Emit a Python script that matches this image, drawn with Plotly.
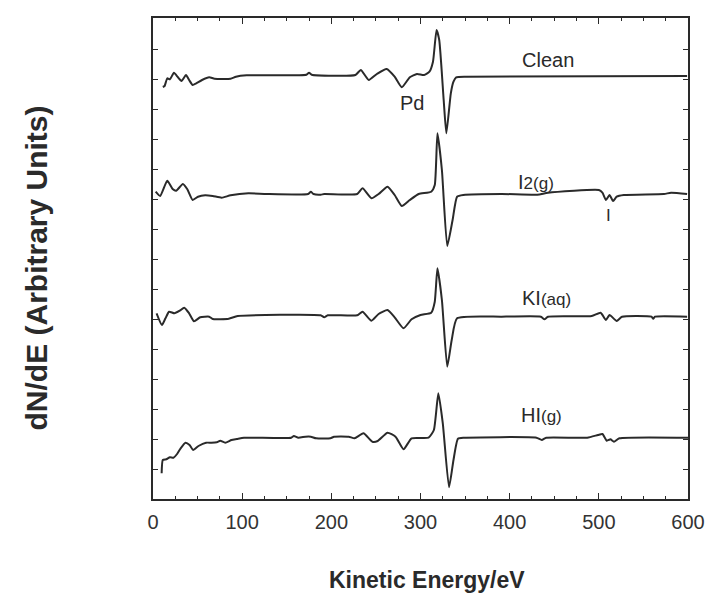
import plotly.graph_objects as go

# ---- data (kinetic energy in eV, dN/dE in arbitrary units with vertical offsets) ----
clean_x = [11, 13, 16, 19, 23.5, 28, 32, 37, 40.5, 44.5, 48.5, 55, 63, 69, 87, 93, 105, 172, 175, 178,
           227, 233, 242, 251, 262, 271, 279, 288, 296, 304, 310, 314, 318, 321, 326, 329, 334, 337,
           340, 352, 599]
clean_y = [412, 413, 420.7, 419.7, 426.3, 421.7, 418, 424, 419, 414, 415.7, 419, 421.7, 420.3, 420.3,
           422.3, 423.7, 424.3, 426.3, 424.3, 424, 429, 419, 425, 430, 422.3, 411.7, 421.7, 425, 424,
           427.3, 437.3, 469, 459, 399, 365.7, 405.7, 417.3, 421.7, 422.3, 423]

i2_x = [3, 8, 16, 22, 26, 33.5, 38.5, 44.5, 50.5, 58.5, 67, 77, 87, 107, 127.5, 174, 177, 180, 188, 192,
        229, 235, 245, 253, 263, 271, 279, 288, 298, 312, 316, 319, 324, 330, 336, 341, 348, 391, 431,
        443, 500, 504, 508, 512, 516, 520, 528, 573, 581, 599]
i2_y = [307.3, 303, 318.3, 310, 308.3, 315, 309.7, 299, 302.3, 303.7, 303, 301.3, 303.7, 305.7, 305,
        305, 307.3, 305, 304.3, 305, 305, 310.7, 300.7, 305, 312.3, 304, 293, 299, 305, 307.3, 314,
        365.7, 329, 253, 279, 302.3, 304, 305, 304.3, 306.3, 309, 306.3, 299, 304, 298, 302.3, 304,
        305, 306.3, 305]

ki_x = [4, 10, 14, 18, 24, 30, 35, 40.5, 46, 53, 63, 67, 85, 95, 188, 192, 196, 229, 235, 245, 253,
        263, 271, 281, 290, 300, 312, 316, 319, 324, 330, 335, 341, 391, 435, 439, 443, 492, 502,
        508, 512, 520, 526, 559, 561, 563, 599]
ki_y = [185.7, 174, 180.7, 187.3, 185.7, 188.3, 191.3, 185.7, 177.7, 181.7, 182.3, 180, 180.3, 183,
        183.7, 181.7, 183.7, 183.7, 187.3, 178.3, 185, 189, 181.7, 170.7, 179.7, 184, 186.3, 197.3,
        230.7, 199, 132.3, 159, 180.7, 182.3, 182.3, 179.7, 182.3, 183, 186.3, 179, 184, 178, 182.3,
        182.3, 180.3, 182.3, 182.3]

hi_x = [9.7, 11, 15, 19, 23, 27, 31, 36.5, 41, 45, 51, 59.5, 65.5, 71.5, 75.5, 81, 88, 94, 102, 155,
        158, 163, 171, 177, 183, 199, 203, 219.5, 226, 236, 246, 252, 263, 272, 281, 290, 309, 315,
        320, 325, 332, 337, 342, 349, 430, 436, 441, 487, 499, 504, 509, 513, 517, 523, 600]
hi_y = [25.7, 39, 39.7, 41.7, 41.3, 45, 50.7, 56.3, 54, 49, 53, 56.3, 56.3, 56.7, 58.3, 56.3, 59, 60,
        61.3, 61.3, 63, 61.3, 62.3, 62.3, 60.7, 60.7, 62.3, 62.3, 60.7, 65.7, 57.3, 58, 66.3, 62.3,
        49.7, 60.7, 61.3, 69, 105.7, 75.7, 11.7, 39, 60.3, 61.3, 61.3, 59, 61.3, 61.3, 64, 65, 58.3,
        59.7, 57.3, 60.7, 61.3]

series = [("Clean", clean_x, clean_y), ("I2(g)", i2_x, i2_y),
          ("KI(aq)", ki_x, ki_y), ("HI(g)", hi_x, hi_y)]

# labels: (text, x eV, y, size)
labels = [
    ("Clean", 443, 439, 20),
    ("Pd", 291, 396, 20),
    ("I<span style='font-size:17px'>2(g)</span>", 429, 317, 20),
    ("I", 511, 284, 17),
    ("KI<span style='font-size:17px'>(aq)</span>", 441, 201, 20),
    ("HI<span style='font-size:17px'>(g)</span>", 436, 84, 20),
]

x_ticks = [0, 100, 200, 300, 400, 500, 600]

FONT = "Liberation Sans, Arial, Helvetica, sans-serif"
INK = "#2a2a2a"

fig = go.Figure()
for name, xs, ys in series:
    fig.add_trace(go.Scatter(x=xs, y=ys, mode="lines", name=name,
                             line=dict(color=INK, width=2, shape="spline", smoothing=0.5),
                             showlegend=False, hoverinfo="skip"))

for text, lx, ly, fs in labels:
    fig.add_annotation(x=lx, y=ly, text=text, showarrow=False,
                       font=dict(family=FONT, size=fs, color=INK), xref="x", yref="y")

fig.add_annotation(x=0.513, y=-0.168, xref="paper", yref="paper", yanchor="middle",
                   text="<b>Kinetic Energy/eV</b>", showarrow=False,
                   font=dict(family=FONT, size=23, color=INK))
fig.add_annotation(x=-0.218, y=0.48, xref="paper", yref="paper", xanchor="center",
                   yanchor="middle", text="<b>dN/dE (Arbitrary Units)</b>", showarrow=False,
                   textangle=-90, font=dict(family=FONT, size=30, color=INK))

fig.update_xaxes(range=[0, 600], tickvals=x_ticks, ticktext=[str(v) for v in x_ticks],
                 ticks="inside", ticklen=6, tickwidth=1.3, tickcolor=INK,
                 minor=dict(dtick=25, ticks="inside", ticklen=3, tickcolor=INK, tickwidth=1.2),
                 showline=True, linecolor=INK, linewidth=1.6, mirror="ticks",
                 showgrid=False, zeroline=False, automargin=False,
                 tickfont=dict(family=FONT, size=20, color="#333"), ticklabelstandoff=4)
fig.update_yaxes(range=[0, 481], dtick=30, tick0=0, showticklabels=False,
                 ticks="inside", ticklen=5, tickwidth=1.3, tickcolor=INK,
                 showline=True, linecolor=INK, linewidth=1.6, mirror="ticks",
                 showgrid=False, zeroline=False, automargin=False)

fig.update_layout(width=710, height=601, margin=dict(l=153, r=22, t=18, b=102, autoexpand=False),
                  plot_bgcolor="white", paper_bgcolor="white")

fig.write_html("out.html", config={"displayModeBar": False},
               post_script="document.body.style.margin='0';document.body.style.overflow='hidden';")
